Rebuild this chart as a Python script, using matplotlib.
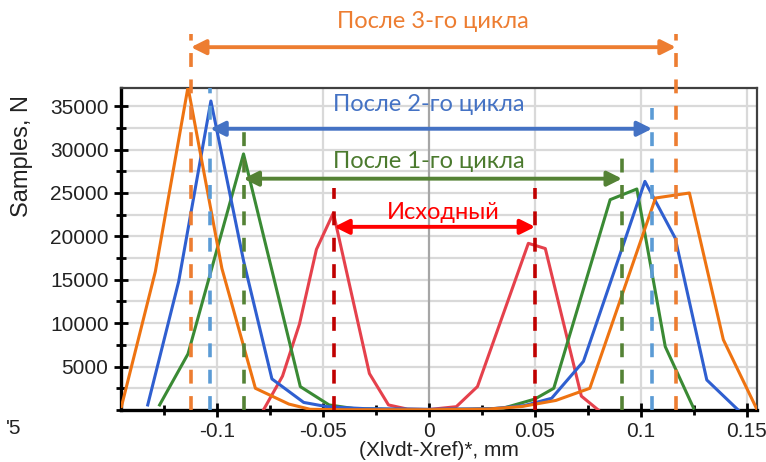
import matplotlib
matplotlib.use("Agg")
import matplotlib.pyplot as plt
from matplotlib.ticker import MultipleLocator, FixedLocator

plt.rcParams['font.family'] = ['Liberation Sans', 'DejaVu Sans']
plt.rcParams['lines.scale_dashes'] = False

# measured distributions (x in mm, y = samples)
x_init = [-0.078, -0.069, -0.061, -0.053, -0.045, -0.028, -0.019, -0.010, 0.0,
          0.013, 0.023, 0.047, 0.055, 0.072, 0.080]
y_init = [0, 3900, 9900, 18500, 22700, 4200, 580, 100, 50,
          380, 2700, 19200, 18600, 1600, 0]

x_c1 = [-0.127, -0.1136, -0.0874, -0.0606, -0.047, -0.035, -0.02, 0.0, 0.02,
        0.035, 0.050, 0.059, 0.0856, 0.0982, 0.1116, 0.125]
y_c1 = [580, 6460, 29500, 2690, 580, 150, 80, 50, 80,
        200, 1250, 2500, 24230, 25460, 7300, 200]

x_c2 = [-0.1326, -0.118, -0.1028, -0.0873, -0.074, -0.059, -0.048, -0.03, 0.0,
        0.03, 0.045, 0.058, 0.073, 0.102, 0.1163, 0.1312, 0.146]
y_c2 = [580, 14800, 35600, 17100, 3580, 870, 380, 150, 80,
        150, 500, 1350, 5600, 26340, 19800, 3460, 0]

x_c3 = [-0.145, -0.129, -0.1136, -0.0976, -0.0818, -0.066, -0.056, -0.04, 0.0,
        0.028, 0.044, 0.060, 0.076, 0.107, 0.123, 0.139, 0.155]
y_c3 = [400, 15960, 37200, 16300, 2500, 680, 80, 30, 30,
        100, 400, 1100, 2500, 24420, 25000, 8100, 0]

# peak markers: (left x, right x)
marks_init = (-0.0446, 0.0502)
marks_c1 = (-0.0874, 0.0912)
marks_c2 = (-0.1031, 0.1054)
marks_c3 = (-0.1122, 0.1166)

labels = ["Исходный", "После 1-го цикла", "После 2-го цикла", "После 3-го цикла"]

fig = plt.figure(figsize=(7.66, 4.62), dpi=100)
ax = fig.add_axes([0.158, 0.1126, 0.830, 0.697])

ax.plot(x_init, y_init, color='#E5414C', lw=2.2, zorder=3)
ax.plot(x_c1, y_c1, color='#3A8A34', lw=2.2, zorder=3)
ax.plot(x_c2, y_c2, color='#2F5FD0', lw=2.2, zorder=3)
ax.plot(x_c3, y_c3, color='#EE7311', lw=2.2, zorder=3)

ax.set_xlim(-0.1452, 0.1548)
ax.set_ylim(0, 37100)

# dashed verticals
dash = (10, 9)
def vline(x, ytop, color):
    ax.plot([x, x], [0, ytop], color=color, lw=2.6, dashes=dash,
            zorder=4, clip_on=False)

vline(marks_c3[0], 43300, '#ED7D31')
vline(marks_c3[1], 43300, '#ED7D31')
vline(marks_c2[0], 37100, '#5B9BD5')
vline(marks_c2[1], 34800, '#5B9BD5')
vline(marks_c1[0], 32300, '#548235')
vline(marks_c1[1], 30200, '#548235')
vline(marks_init[0], 25600, '#C00000')
vline(marks_init[1], 25600, '#C00000')

def span(xs, y, color):
    ax.annotate("", xy=(xs[1], y), xytext=(xs[0], y),
                arrowprops=dict(arrowstyle='<|-|>', color=color, lw=2.8,
                                mutation_scale=22, shrinkA=0, shrinkB=0),
                annotation_clip=False, zorder=5)

span(marks_c3, 41800, '#ED7D31')
span(marks_c2, 32400, '#4472C4')
span(marks_c1, 26650, '#548235')
span(marks_init, 21100, '#FF0000')

tfont = dict(family=['Lato', 'DejaVu Sans'], fontsize=17, ha='center', va='center')
ax.text(0.002, 44800, labels[3], color='#ED7D31', clip_on=False, **tfont)
ax.text(0.0, 35200, labels[2], color='#4472C4', **tfont)
ax.text(0.0, 28600, labels[1], color='#4B7A2E', **tfont)
ax.text(0.007, 22700, labels[0], color='#FF0000', **tfont)

# grid and ticks
ax.xaxis.set_major_locator(FixedLocator([-0.1, -0.05, 0, 0.05, 0.1, 0.15]))
ax.xaxis.set_minor_locator(FixedLocator([-0.125, -0.075, -0.025, 0.025, 0.075, 0.125]))
ax.set_xticklabels(['-0.1', '-0.05', '0', '0.05', '0.1', '0.15'])
ax.yaxis.set_major_locator(FixedLocator([5000, 10000, 15000, 20000, 25000, 30000, 35000]))
ax.yaxis.set_minor_locator(MultipleLocator(2500))

for yv in range(2500, 37500, 2500):
    ax.axhline(yv, color='#D9D9D9', lw=1.6, zorder=1)
for xv in [-0.1, -0.05, 0.05, 0.1, 0.15]:
    ax.axvline(xv, color='#D9D9D9', lw=1.6, zorder=1)
ax.axvline(0, color='#A6A6A6', lw=1.6, zorder=1)

ax.tick_params(axis='both', which='major', direction='inout', length=10, width=2.0,
               labelsize=15, colors='black', labelcolor='#222222')
ax.tick_params(axis='both', which='minor', direction='inout', length=7, width=2.0)
ax.tick_params(axis='x', pad=4)
ax.tick_params(axis='y', pad=4)

for s in ['left', 'bottom']:
    ax.spines[s].set_linewidth(2.4)
    ax.spines[s].set_color('black')
for s in ['top', 'right']:
    ax.spines[s].set_linewidth(1.6)
    ax.spines[s].set_color('#404040')

ax.set_xlabel("(Xlvdt-Xref)*, mm", fontsize=15, color='#222222', labelpad=0)
fig.text(22 / 766, 1 - 156 / 462, "Samples, N", rotation=90, fontsize=17,
         color='#222222', ha='center', va='center')
fig.text(0.008, 1 - 428 / 462, "'5", fontsize=15, color='#222222', va='center')

fig.savefig("out.png", dpi=100)
